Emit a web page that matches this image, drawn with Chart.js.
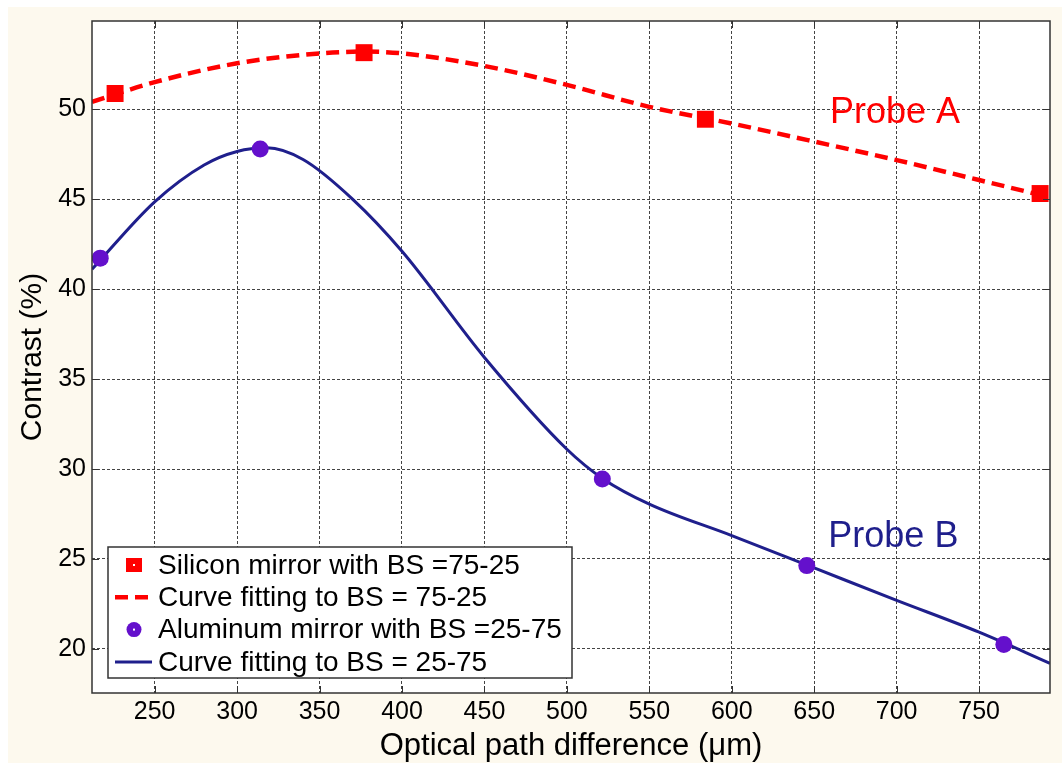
<!DOCTYPE html>
<html>
<head>
<meta charset="utf-8">
<title>Contrast vs optical path difference</title>
<script src="https://cdn.jsdelivr.net/npm/chart.js@4.4.1/dist/chart.umd.min.js"></script>
<style>
	html, body { margin: 0; padding: 0; background: #fff; }
	#frame { position: absolute; left: 8px; top: 7px; width: 1054px; height: 756px; background: #fdf9ee; }
	#wrap { position: absolute; left: 0; top: 0; width: 1062px; height: 765px; }
</style>
</head>
<body>
<div id="frame"></div>
<div id="wrap"><canvas id="contrastChart"></canvas></div>
<script>
// measured points (markers)
const siliconX = [226, 377, 584, 787];
const siliconY = [50.87, 53.14, 49.44, 45.31];
const aluminumX = [217, 314, 521.5, 645.5, 765];
const aluminumY = [41.72, 47.78, 29.45, 24.63, 20.24];

// fitted curves
const fitAX = [212, 250, 300, 350, 377, 400, 450, 500, 550, 600, 650, 700, 750, 793];
const fitAY = [50.4, 51.5, 52.55, 53.1, 53.2, 53.1, 52.4, 51.35, 50.13, 49.2, 48.2, 47.17, 46.06, 45.1];
const fitBX = [212, 250, 280, 300, 318, 340, 370, 400, 450, 500, 522, 550, 600, 650, 700, 750, 793];
const fitBY = [41.1, 44.85, 46.9, 47.65, 47.85, 47.2, 45.0, 42.1, 36.2, 31.1, 29.45, 28.05, 26.3, 24.5, 22.7, 20.93, 19.2];

// axes
const xTicks = [250, 300, 350, 400, 450, 500, 550, 600, 650, 700, 750];
const yTicks = [20, 25, 30, 35, 40, 45, 50];
const xRange = [212, 793];
const yRange = [17.55, 54.9];

// text annotations
const probeLabels = ['Probe A', 'Probe B'];
const probeX = [699, 698];
const probeY = [49.8, 26.2];

const red = '#ff0000';
const navy = '#1f1f8c';
const purple = '#6410cc';
const font = "'Liberation Sans', Arial, sans-serif";

function toPoints(xs, ys) {
	return xs.map((x, i) => ({ x: x, y: ys[i] }));
}

// MATLAB-like box, inner ticks, legend and labels
const matlabBox = {
	id: 'matlabBox',
	beforeDraw(chart) {
		const { ctx, chartArea: a } = chart;
		ctx.save();
		ctx.fillStyle = '#fff';
		ctx.fillRect(a.left, a.top, a.right - a.left, a.bottom - a.top);
		ctx.restore();
	},
	afterDatasetsDraw(chart) {
		const { ctx, chartArea: a, scales } = chart;
		ctx.save();
		ctx.strokeStyle = '#333';
		ctx.lineWidth = 1;
		ctx.beginPath();
		xTicks.forEach(v => {
			const px = Math.round(scales.x.getPixelForValue(v)) + 0.5;
			ctx.moveTo(px, a.bottom); ctx.lineTo(px, a.bottom - 7);
			ctx.moveTo(px, a.top); ctx.lineTo(px, a.top + 7);
		});
		yTicks.forEach(v => {
			const py = Math.round(scales.y.getPixelForValue(v)) + 0.5;
			ctx.moveTo(a.left, py); ctx.lineTo(a.left + 7, py);
			ctx.moveTo(a.right, py); ctx.lineTo(a.right - 7, py);
		});
		ctx.stroke();
		ctx.lineWidth = 1.5;
		ctx.strokeRect(a.left, a.top, a.right - a.left, a.bottom - a.top);
		ctx.restore();
	},
	afterDraw(chart) {
		const { ctx, chartArea: a, scales } = chart;
		const ds = chart.data.datasets;
		ctx.save();

		// probe labels
		ctx.font = '36px ' + font;
		ctx.textAlign = 'center';
		ctx.textBaseline = 'middle';
		probeLabels.forEach((t, i) => {
			ctx.fillStyle = i === 0 ? red : navy;
			ctx.fillText(t, scales.x.getPixelForValue(probeX[i]), scales.y.getPixelForValue(probeY[i]));
		});

		// legend box
		const lx = a.left + 16, bottom = a.bottom - 15;
		const lw = 464, lh = 131, ly = bottom - lh;
		ctx.fillStyle = '#fff';
		ctx.fillRect(lx, ly, lw, lh);
		ctx.strokeStyle = '#333';
		ctx.lineWidth = 1.5;
		ctx.strokeRect(lx, ly, lw, lh);

		ctx.font = '28px ' + font;
		ctx.textAlign = 'left';
		ds.forEach((d, i) => {
			const cy = ly + 18 + i * 32.3;
			const cx = lx + 26;
			if (d.showLine === false) {
				ctx.fillStyle = d.backgroundColor;
				if (d.pointStyle === 'rect') {
					ctx.fillRect(cx - 8, cy - 7, 16, 14);
				} else {
					ctx.beginPath();
					ctx.arc(cx, cy, 7.5, 0, Math.PI * 2);
					ctx.fill();
				}
				ctx.fillStyle = '#fff';
				ctx.fillRect(cx - 1, cy - 1, 2, 2);
			} else {
				ctx.strokeStyle = d.borderColor;
				ctx.lineWidth = d.borderWidth;
				ctx.setLineDash(d.borderDash ? [13, 7] : []);
				ctx.beginPath();
				ctx.moveTo(lx + 7, cy);
				ctx.lineTo(lx + (d.borderDash ? 41 : 44), cy);
				ctx.stroke();
				ctx.setLineDash([]);
			}
			ctx.fillStyle = '#000';
			ctx.fillText(d.label, lx + 50, cy + 1);
		});
		ctx.restore();
	}
};

const config = {
	type: 'line',
	data: {
		datasets: [
			{
				label: 'Silicon mirror with BS =75-25',
				data: toPoints(siliconX, siliconY),
				showLine: false,
				pointStyle: 'rect',
				pointRadius: 12,
				pointBorderWidth: 0,
				backgroundColor: red,
				borderColor: red,
				order: 0,
			},
			{
				label: 'Curve fitting to BS = 75-25',
				data: toPoints(fitAX, fitAY),
				borderColor: red,
				borderWidth: 4.5,
				borderDash: [13, 7],
				pointRadius: 0,
				cubicInterpolationMode: 'monotone',
				order: 1,
			},
			{
				label: 'Aluminum mirror with BS =25-75',
				data: toPoints(aluminumX, aluminumY),
				showLine: false,
				pointStyle: 'circle',
				pointRadius: 8.5,
				pointBorderWidth: 0,
				backgroundColor: purple,
				borderColor: purple,
				order: 0,
			},
			{
				label: 'Curve fitting to BS = 25-75',
				data: toPoints(fitBX, fitBY),
				borderColor: navy,
				borderWidth: 3,
				pointRadius: 0,
				cubicInterpolationMode: 'monotone',
				order: 1,
			},
		],
	},
	options: {
		responsive: true,
		maintainAspectRatio: false,
		animation: false,
		layout: { padding: { top: 20, right: 3, left: 0, bottom: 0 } },
		plugins: {
			legend: { display: false },
			tooltip: { enabled: false },
		},
		scales: {
			x: {
				type: 'linear',
				min: xRange[0],
				max: xRange[1],
				afterBuildTicks: (scale) => { scale.ticks = xTicks.map(v => ({ value: v })); },
				afterFit: (scale) => { scale.height = 72; },
				grid: { color: '#444', lineWidth: 1, drawTicks: false },
				border: { display: false, dash: [3, 2] },
				ticks: { color: '#000', padding: 4, maxRotation: 0, font: { family: font, size: 25 } },
				title: {
					display: true,
					text: 'Optical path difference (\u03bcm)',
					color: '#000',
					font: { family: font, size: 31 },
					padding: { top: 9, bottom: 0 },
				},
			},
			y: {
				min: yRange[0],
				max: yRange[1],
				afterBuildTicks: (scale) => { scale.ticks = yTicks.map(v => ({ value: v })); },
				afterFit: (scale) => { scale.width = 92; },
				grid: { color: '#444', lineWidth: 1, drawTicks: false },
				border: { display: false, dash: [3, 2] },
				ticks: { color: '#000', padding: 6, font: { family: font, size: 25 } },
				title: {
					display: true,
					text: 'Contrast (%)',
					color: '#000',
					font: { family: font, size: 30 },
					padding: { top: 15, bottom: 0 },
				},
			},
		},
	},
	plugins: [matlabBox],
};

const contrastChart = new Chart(document.getElementById('contrastChart'), config);
</script>
</body>
</html>
